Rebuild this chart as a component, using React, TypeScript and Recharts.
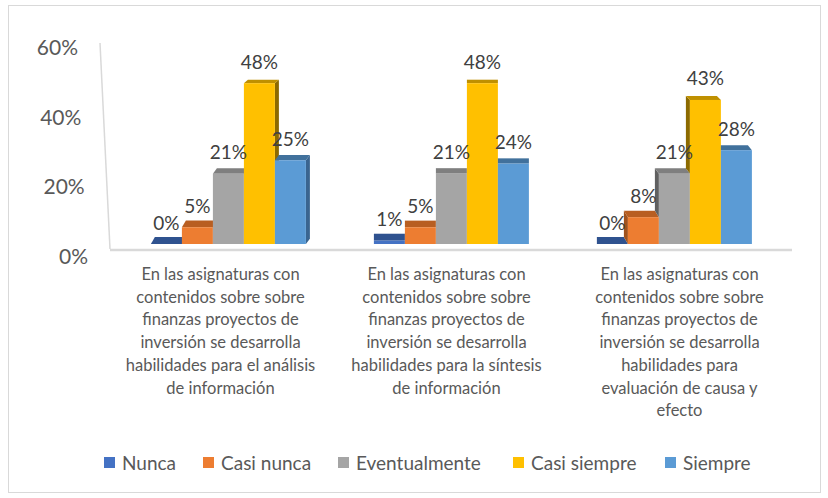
import React from 'react';
import { BarChart, Bar, XAxis, YAxis, LabelList } from 'recharts';

const CATEGORIES = [
    ['En las asignaturas con', 'contenidos sobre sobre', 'finanzas proyectos de', 'inversión se desarrolla', 'habilidades para el análisis', 'de información'],
    ['En las asignaturas con', 'contenidos sobre sobre', 'finanzas proyectos de', 'inversión se desarrolla', 'habilidades para la síntesis', 'de información'],
    ['En las asignaturas con', 'contenidos sobre sobre', 'finanzas proyectos de', 'inversión se desarrolla', 'habilidades para', 'evaluación de causa y', 'efecto'],
];

const SERIES = ['Nunca', 'Casi nunca', 'Eventualmente', 'Casi siempre', 'Siempre'];

const NUNCA = [0, 1, 0];
const CASI_NUNCA = [5, 5, 8];
const EVENTUALMENTE = [21, 21, 21];
const CASI_SIEMPRE = [48, 48, 43];
const SIEMPRE = [25, 24, 28];

const Y_TICKS = [0, 20, 40, 60];

const VALUES = [NUNCA, CASI_NUNCA, EVENTUALMENTE, CASI_SIEMPRE, SIEMPRE];

const data = CATEGORIES.map((lines, i) => {
    const row: any = { name: lines.join(' '), lines };
    SERIES.forEach((s, k) => { row[s] = VALUES[k][i]; });
    return row;
});

// front / top / side shades (Office palette)
const COLORS = [
    { front: '#4472C4', top: '#2F528F', side: '#2B4C85' },
    { front: '#ED7D31', top: '#B85E21', side: '#A0521D' },
    { front: '#A5A5A5', top: '#7F7F7F', side: '#606060' },
    { front: '#FFC000', top: '#BF9000', side: '#8C6A00' },
    { front: '#5B9BD5', top: '#41719C', side: '#3A6590' },
];

const FONT = 'Lato, "Open Sans", sans-serif';
const SIDE_DX = [4, 0, -4]; // perspective per category
const LABEL_SHIFT = [-8, -5, 5];
const LEGEND_X = [104, 203, 338, 513, 665];

const topDepth = (y: number) => {
    const t = Math.max(0, Math.min(1, (y - 83) / 161));
    return -(3.5 + 3.5 * t);
};

function Box3D(props: any) {
    const { x, y, width: w, height: h, index, payload, seriesIdx } = props;
    const c = COLORS[seriesIdx];
    const dx = SIDE_DX[index] ?? 0;
    const dy = topDepth(y);
    const base = y + h;
    const faces: React.ReactNode[] = [];

    // neighbour on the left (only matters when we look at left faces)
    let prevTop = base;
    if (dx < 0 && seriesIdx > 0) {
        const v = payload[SERIES[seriesIdx]];
        const pv = payload[SERIES[seriesIdx - 1]];
        const ppu = v > 0 ? h / v : 3.36;
        prevTop = base - pv * ppu;
    }

    if (dx > 0) {
        faces.push(<polygon key="s" fill={c.side}
            points={`${x + w},${y} ${x + w + dx},${y + dy} ${x + w + dx},${base + dy} ${x + w},${base}`} />);
    } else if (dx < 0 && prevTop > y) {
        const dyp = topDepth(prevTop);
        const bottomR = seriesIdx > 0 ? prevTop : base;
        const bottomL = seriesIdx > 0 ? prevTop + dyp : base + dy;
        faces.push(<polygon key="s" fill={c.side}
            points={`${x},${y} ${x + dx},${y + dy} ${x + dx},${bottomL} ${x},${bottomR}`} />);
    }

    const hiddenLeft = dx < 0 && prevTop <= y;
    const topPts = hiddenLeft
        ? `${x},${y} ${x + w},${y} ${x + w + dx},${y + dy} ${x},${y + dy}`
        : `${x},${y} ${x + w},${y} ${x + w + dx},${y + dy} ${x + dx},${y + dy}`;
    faces.push(<polygon key="t" fill={c.top} points={topPts} />);
    if (h > 0) faces.push(<rect key="f" x={x} y={y} width={w} height={h} fill={c.front} />);
    return <g>{faces}</g>;
}

function ValueLabel(props: any) {
    const { x, y, width, value } = props;
    return (
        <text x={x + width / 2} y={y - 22} textAnchor="middle" dominantBaseline="central"
            fontFamily={FONT} fontSize={19} fill="#404040">{`${value}%`}</text>
    );
}

function CategoryTick(props: any) {
    const { x, y, payload, index } = props;
    const lines: string[] = data[index]?.lines ?? [String(payload.value)];
    return (
        <text x={x + LABEL_SHIFT[index]} y={y} textAnchor="middle" fontFamily={FONT} fontSize={16.5} fill="#595959">
            {lines.map((l, i) => (
                <tspan key={i} x={x + LABEL_SHIFT[index]} y={y + 30 + i * 22.7} dominantBaseline="central">{l}</tspan>
            ))}
        </text>
    );
}

function PercentTick(props: any) {
    const { x, y, payload } = props;
    const v = payload.value;
    return (
        <text x={x - 29 - v / 6} y={y + 11 - v * 0.117} textAnchor="end" dominantBaseline="central"
            fontFamily={FONT} fontSize={21} fill="#595959">{`${v}%`}</text>
    );
}

export default function App() {
    return (
        <div style={{ position: 'absolute', left: 0, top: 0, width: 828, height: 498, background: '#fff' }}>
            <div style={{ position: 'absolute', left: 8, top: 5, width: 811, height: 486, border: '1px solid #d9d9d9' }} />
            {/* back wall + floor edge */}
            <svg width={828} height={498} style={{ position: 'absolute', left: 0, top: 0 }}>
                <line x1={100} y1={43} x2={110} y2={249} stroke="#d9d9d9" strokeWidth={1.5} />
                <line x1={110} y1={250} x2={792} y2={250} stroke="#d9d9d9" strokeWidth={2.5} />
            </svg>
            <div style={{ position: 'absolute', left: 0, top: 0 }}>
                <BarChart width={828} height={498} data={data} barGap={0} barCategoryGap="15.2%"
                    margin={{ top: 43, right: 42, bottom: 84, left: 37 }}>
                    <XAxis dataKey="name" height={170} axisLine={false} tickLine={false} tickSize={0} tickMargin={0}
                        interval={0} tick={<CategoryTick />} />
                    <YAxis width={80} domain={[0, 60]} ticks={Y_TICKS} axisLine={false} tickLine={false}
                        tickSize={0} tickMargin={0} tick={<PercentTick />} />
                    {SERIES.map((s, k) => (
                        <Bar key={s} dataKey={s} fill={COLORS[k].front} isAnimationActive={false}
                            shape={(p: any) => <Box3D {...p} seriesIdx={k} />}>
                            <LabelList dataKey={s} content={<ValueLabel />} />
                        </Bar>
                    ))}
                </BarChart>
            </div>
            {SERIES.map((s, k) => (
                <div key={s} style={{ position: 'absolute', left: LEGEND_X[k], top: 451, display: 'flex', alignItems: 'center', fontFamily: FONT, fontSize: 19, color: '#595959', whiteSpace: 'nowrap' }}>
                    <span style={{ width: 11, height: 11, background: COLORS[k].front, marginRight: 7, display: 'inline-block' }} />
                    <span>{s}</span>
                </div>
            ))}
        </div>
    );
}
